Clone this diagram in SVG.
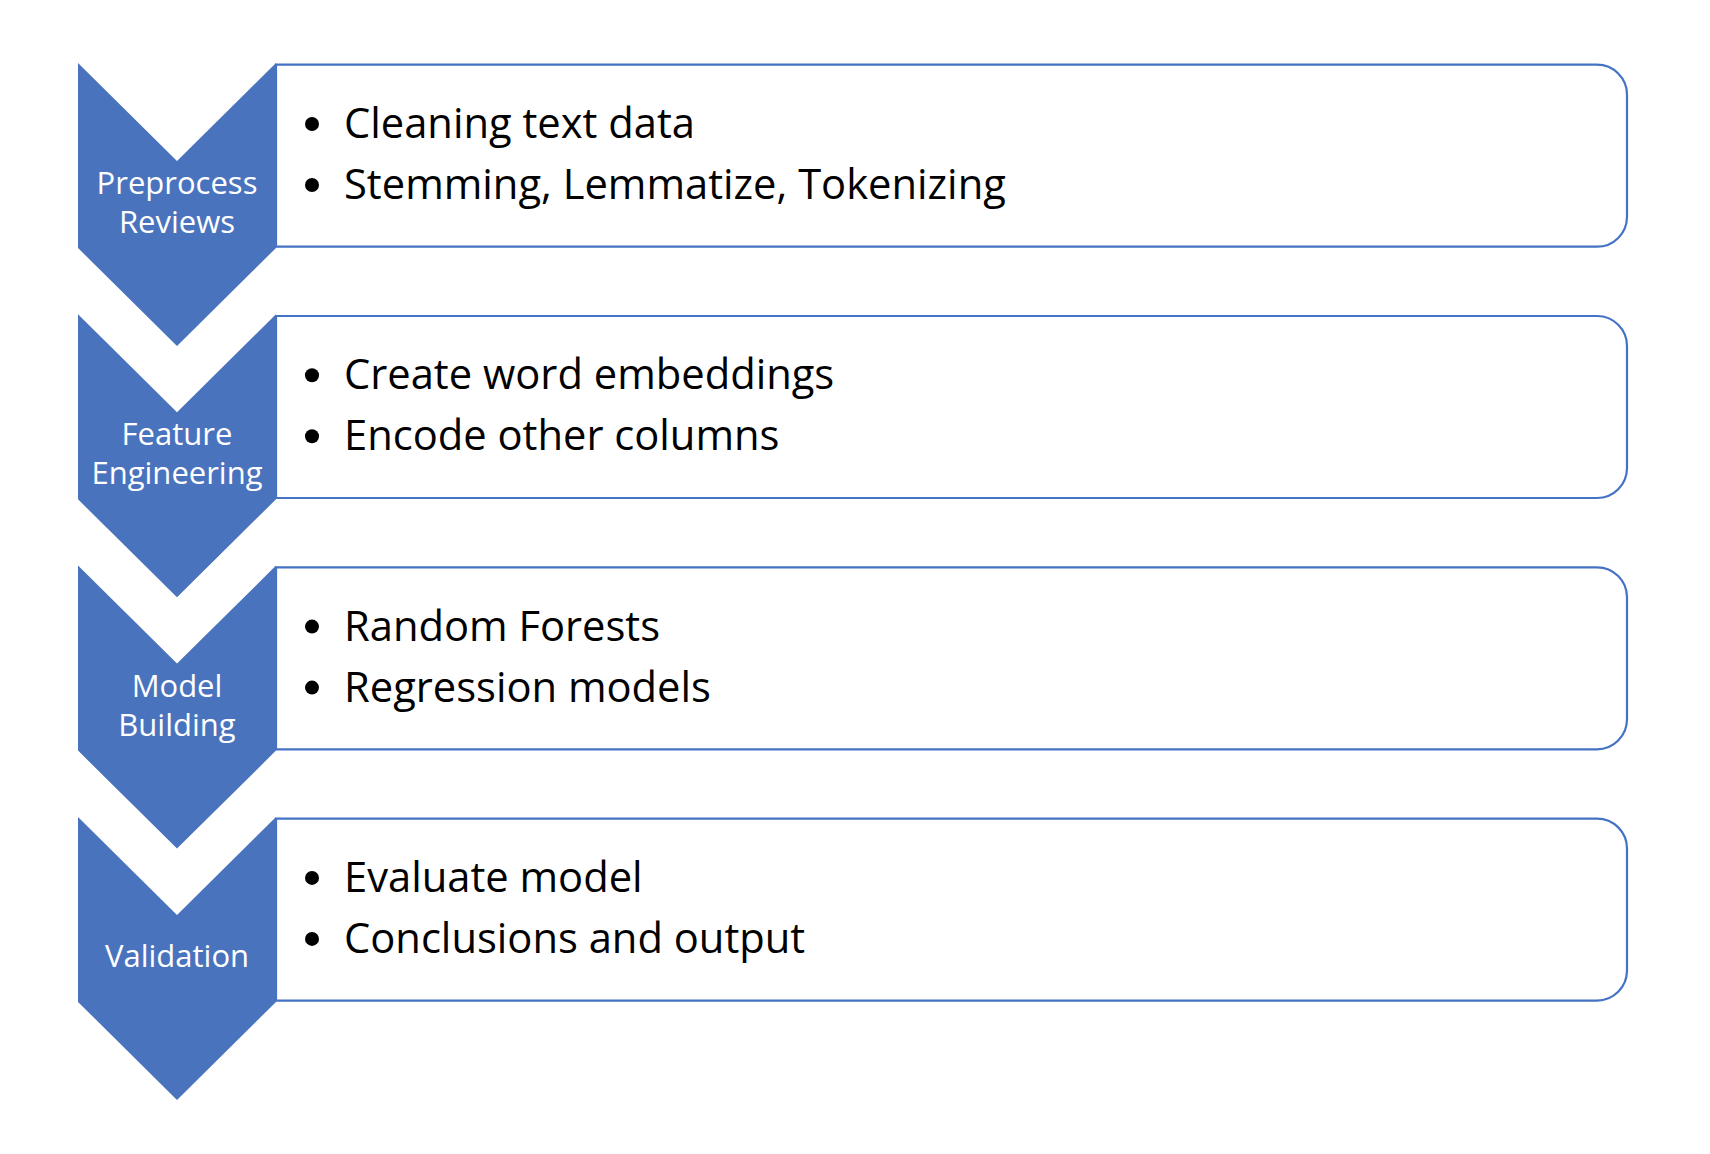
<svg xmlns="http://www.w3.org/2000/svg" width="1710" height="1154" viewBox="0 0 1710 1154">
<style>
.box{fill:#ffffff;stroke:#4472C4;stroke-width:2.2}
.chev{fill:#4A73BE}
.lbl{font-family:"Open Sans","Noto Sans",sans-serif;font-size:31px;fill:#ffffff;text-anchor:middle}
.item{font-family:"Open Sans","Noto Sans",sans-serif;font-size:41.7px;fill:#000000}
.dot{fill:#000000}
</style>
<rect width="1710" height="1154" fill="#ffffff"/>
<g id="connectors"></g>
<g id="step1">
<path class="box" d="M276,64.7 H1597 A30,30 0 0 1 1627,94.7 V216.7 A30,30 0 0 1 1597,246.7 H276 Z"/>
<path class="chev" d="M78,63 L177,161 L276,63 L276,248 L177,346 L78,248 Z"/>
<text class="lbl" x="177" y="194">Preprocess</text>
<text class="lbl" x="177" y="233">Reviews</text>
<circle class="dot" cx="312" cy="124" r="7"/>
<circle class="dot" cx="312" cy="185" r="7"/>
<text class="item" x="344" y="138">Cleaning text data</text>
<text class="item" x="344" y="199">Stemming, Lemmatize, Tokenizing</text>
</g>
<g id="step2" transform="translate(0,251.3)">
<path class="box" d="M276,64.7 H1597 A30,30 0 0 1 1627,94.7 V216.7 A30,30 0 0 1 1597,246.7 H276 Z"/>
<path class="chev" d="M78,63 L177,161 L276,63 L276,248 L177,346 L78,248 Z"/>
<text class="lbl" x="177" y="194">Feature</text>
<text class="lbl" x="177" y="233">Engineering</text>
<circle class="dot" cx="312" cy="124" r="7"/>
<circle class="dot" cx="312" cy="185" r="7"/>
<text class="item" x="344" y="138">Create word embeddings</text>
<text class="item" x="344" y="199">Encode other columns</text>
</g>
<g id="step3" transform="translate(0,502.6)">
<path class="box" d="M276,64.7 H1597 A30,30 0 0 1 1627,94.7 V216.7 A30,30 0 0 1 1597,246.7 H276 Z"/>
<path class="chev" d="M78,63 L177,161 L276,63 L276,248 L177,346 L78,248 Z"/>
<text class="lbl" x="177" y="194">Model</text>
<text class="lbl" x="177" y="233">Building</text>
<circle class="dot" cx="312" cy="124" r="7"/>
<circle class="dot" cx="312" cy="185" r="7"/>
<text class="item" x="344" y="138">Random Forests</text>
<text class="item" x="344" y="199">Regression models</text>
</g>
<g id="step4" transform="translate(0,753.9)">
<path class="box" d="M276,64.7 H1597 A30,30 0 0 1 1627,94.7 V216.7 A30,30 0 0 1 1597,246.7 H276 Z"/>
<path class="chev" d="M78,63 L177,161 L276,63 L276,248 L177,346 L78,248 Z"/>
<text class="lbl" x="177" y="213">Validation</text>
<circle class="dot" cx="312" cy="124" r="7"/>
<circle class="dot" cx="312" cy="185" r="7"/>
<text class="item" x="344" y="138">Evaluate model</text>
<text class="item" x="344" y="199">Conclusions and output</text>
</g>
</svg>
